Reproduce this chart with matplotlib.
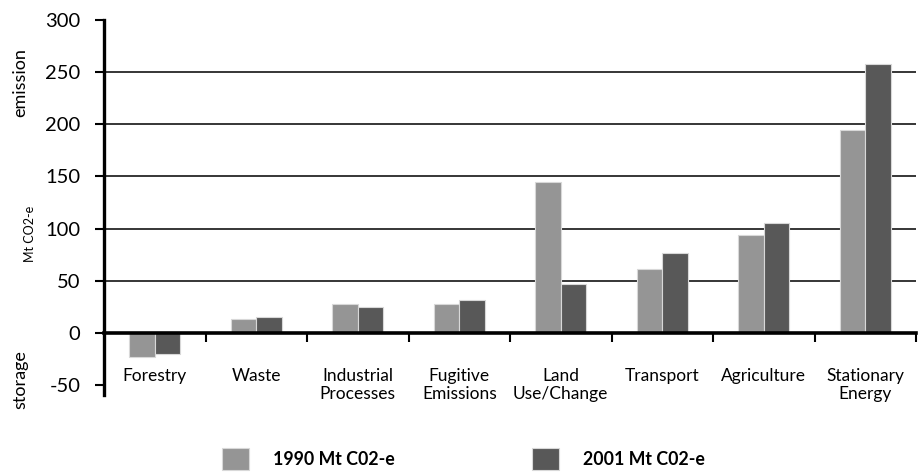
import matplotlib
matplotlib.use('Agg')
import matplotlib.pyplot as plt
import numpy as np

# Emissions by sector (Mt CO2-e)
sectors = ['Forestry', 'Waste', 'Industrial\nProcesses', 'Fugitive\nEmissions',
           'Land\nUse/Change', 'Transport', 'Agriculture', 'Stationary\nEnergy']
mt_1990 = [-23, 13, 28, 28, 145, 61, 94, 195]
mt_2001 = [-20, 15, 25, 32, 47, 77, 105, 258]
series_labels = ['1990 Mt C02-e', '2001 Mt C02-e']
y_ticks = [-50, 0, 50, 100, 150, 200, 250, 300]

plt.rcParams['font.family'] = ['Lato', 'DejaVu Sans']
plt.rcParams['axes.unicode_minus'] = False

fig = plt.figure(figsize=(9.21, 4.72), dpi=100)
ax = fig.add_axes([104/921, 1 - 395/472, 812/921, 375/472])

x = np.arange(len(sectors))
w = 0.25
b1 = ax.bar(x - w/2, mt_1990, w, color='#959595', edgecolor='#d8d8d8', linewidth=0.8,
            label=series_labels[0], zorder=3)
b2 = ax.bar(x + w/2, mt_2001, w, color='#585858', edgecolor='#d8d8d8', linewidth=0.8,
            label=series_labels[1], zorder=3)

ax.set_xlim(-0.5, len(sectors) - 0.5)
ax.set_ylim(-59.5, 300)

# axes look
for s in ['top', 'right']:
    ax.spines[s].set_visible(False)
ax.spines['left'].set_linewidth(2.4)
ax.spines['bottom'].set_position(('data', 0))
ax.spines['bottom'].set_linewidth(2.6)
ax.spines['bottom'].set_zorder(4)

ax.set_yticks(y_ticks)
ax.tick_params(axis='y', direction='out', length=6.5, width=1.5, pad=10.5, labelsize=14.5)

# boundaries as major ticks, sector names as minor tick labels
ax.set_xticks(np.append(x[1:] - 0.5, len(sectors) - 0.5))
ax.set_xticklabels([])
ax.set_xticks(x, minor=True)
ax.set_xticklabels(sectors, minor=True, fontsize=12.5, linespacing=1.15)
ax.tick_params(axis='x', which='major', direction='out', length=6.5, width=1.5)
ax.tick_params(axis='x', which='minor', length=0, pad=25)

ax.yaxis.grid(True, color='black', linewidth=1.1)
ax.set_axisbelow(True)
for val, gl in zip(y_ticks, ax.get_ygridlines()):
    if val in (-50, 0, 300):
        gl.set_visible(False)

# side labels
fig.text(20/921, 1 - 83/472, 'emission', rotation=90, ha='center', va='center', fontsize=13)
fig.text(30/921, 1 - 234/472, 'Mt CO2-e', rotation=90, ha='center', va='center', fontsize=9)
fig.text(20/921, 1 - 380/472, 'storage', rotation=90, ha='center', va='center', fontsize=13)

leg = ax.legend(handles=[b1, b2], loc='center left', bbox_to_anchor=(222/921, 1 - 459/472),
                bbox_transform=fig.transFigure, ncol=2, frameon=False,
                handlelength=1.5, handleheight=1.5, handletextpad=1.35,
                columnspacing=7.75, borderpad=0, borderaxespad=0,
                prop={'weight': 'bold', 'size': 12.8})

fig.savefig('out.png', dpi=100)
